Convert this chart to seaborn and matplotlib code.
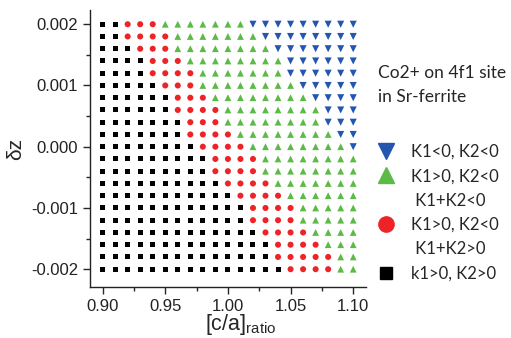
import numpy as np
import pandas as pd
import matplotlib
matplotlib.use("Agg")
import matplotlib.pyplot as plt
from matplotlib.lines import Line2D
from matplotlib.ticker import MultipleLocator, FormatStrFormatter
import seaborn as sns

# grid values
ca_ratio = [0.90, 0.91, 0.92, 0.93, 0.94, 0.95, 0.96, 0.97, 0.98, 0.99, 1.00,
            1.01, 1.02, 1.03, 1.04, 1.05, 1.06, 1.07, 1.08, 1.09, 1.10]
dz = [0.0020, 0.0018, 0.0016, 0.0014, 0.0012, 0.0010, 0.0008, 0.0006, 0.0004, 0.0002, 0.0000,
      -0.0002, -0.0004, -0.0006, -0.0008, -0.0010, -0.0012, -0.0014, -0.0016, -0.0018, -0.0020]

# for each dz row: index of first c/a column that is no longer black / red / green
black_end = [2, 2, 3, 4, 4, 5, 6, 6, 7, 7, 8, 9, 9, 10, 11, 12, 12, 13, 14, 14, 15]
red_end = [5, 6, 6, 7, 8, 8, 9, 10, 10, 11, 12, 13, 13, 14, 15, 16, 16, 17, 18, 19, 19]
green_end = [12, 13, 14, 15, 15, 16, 17, 18, 18, 19, 20, 21, 21, 21, 21, 21, 21, 21, 21, 21, 21]

regions = ["k1>0, K2>0", "K1>0, K2<0, K1+K2>0", "K1>0, K2<0, K1+K2<0", "K1<0, K2<0"]
colors = {"k1>0, K2>0": "black", "K1>0, K2<0, K1+K2>0": "#ee2328",
          "K1>0, K2<0, K1+K2<0": "#5cba47", "K1<0, K2<0": "#2456b0"}
markers = {"k1>0, K2>0": "s", "K1>0, K2<0, K1+K2>0": "o",
           "K1>0, K2<0, K1+K2<0": "^", "K1<0, K2<0": "v"}
sizes = {"k1>0, K2>0": 13, "K1>0, K2<0, K1+K2>0": 19,
         "K1>0, K2<0, K1+K2<0": 24, "K1<0, K2<0": 26}

rows = []
for i, z in enumerate(dz):
    for j, r in enumerate(ca_ratio):
        if j < black_end[i]:
            reg = regions[0]
        elif j < red_end[i]:
            reg = regions[1]
        elif j < green_end[i]:
            reg = regions[2]
        else:
            reg = regions[3]
        rows.append((r, z, reg))
df = pd.DataFrame(rows, columns=["ratio", "dz", "region"])

sns.set_style("ticks")
plt.rcParams["font.family"] = ["Liberation Sans", "DejaVu Sans"]
plt.rcParams["mathtext.fontset"] = "custom"
plt.rcParams["mathtext.rm"] = "Liberation Sans"

fig = plt.figure(figsize=(5.11, 3.38), dpi=100)
ax = fig.add_axes([0.176, 0.151, 0.540, 0.819])

sns.scatterplot(data=df, x="ratio", y="dz", hue="region", style="region", size="region",
                palette=colors, markers=markers, sizes=sizes, linewidth=0,
                legend=False, ax=ax)

ax.set_xlim(0.8899, 1.1101)
ax.set_ylim(-0.00229, 0.00223)
ax.set_xticks([0.90, 0.95, 1.00, 1.05, 1.10])
ax.xaxis.set_minor_locator(MultipleLocator(0.025))
ax.xaxis.set_major_formatter(FormatStrFormatter("%.2f"))
ax.set_yticks([-0.002, -0.001, 0.0, 0.001, 0.002])
ax.yaxis.set_minor_locator(MultipleLocator(0.0005))
ax.yaxis.set_major_formatter(FormatStrFormatter("%.3f"))
ax.tick_params(which="major", length=5, width=1, labelsize=12, direction="out",
               labelcolor="#222222")
ax.tick_params(axis="x", which="major", pad=3.5)
ax.tick_params(which="minor", length=3, width=1, direction="out")
for s in ["left", "bottom"]:
    ax.spines[s].set_linewidth(1)
    ax.spines[s].set_color("#222222")
sns.despine(ax=ax)

ax.set_xlabel(r"[c/a]$_{\mathrm{ratio}}$", fontsize=15.5)
ax.xaxis.set_label_coords(0.547, -0.092)
ax.set_ylabel("δz", fontsize=15, labelpad=4)

# title and legend at the right
lfont = ["Lato", "DejaVu Sans"]
fig.text(378 / 511, 1 - 73 / 338, "Co2+ on 4f1 site", fontsize=12.5, family=lfont, va="center")
fig.text(378 / 511, 1 - 97 / 338, "in Sr-ferrite", fontsize=12.5, family=lfont, va="center")

handles = [
    Line2D([], [], ls="", marker="v", color=colors[regions[3]], markersize=11),
    Line2D([], [], ls="", marker="^", color=colors[regions[2]], markersize=11),
    Line2D([], [], ls="", marker=""),
    Line2D([], [], ls="", marker="o", color=colors[regions[1]], markersize=11),
    Line2D([], [], ls="", marker=""),
    Line2D([], [], ls="", marker="s", color=colors[regions[0]], markersize=9),
]
labels = ["K1<0, K2<0", "K1>0, K2<0", " K1+K2<0", "K1>0, K2<0", " K1+K2>0", "k1>0, K2>0"]
fig.legend(handles, labels, loc="upper left", bbox_to_anchor=(376 / 511, 1 - 144 / 338),
           frameon=False, borderpad=0, borderaxespad=0, handlelength=1.2,
           handletextpad=0.9, labelspacing=0.5, prop={"family": lfont, "size": 12})

fig.savefig("out.png", dpi=100)
